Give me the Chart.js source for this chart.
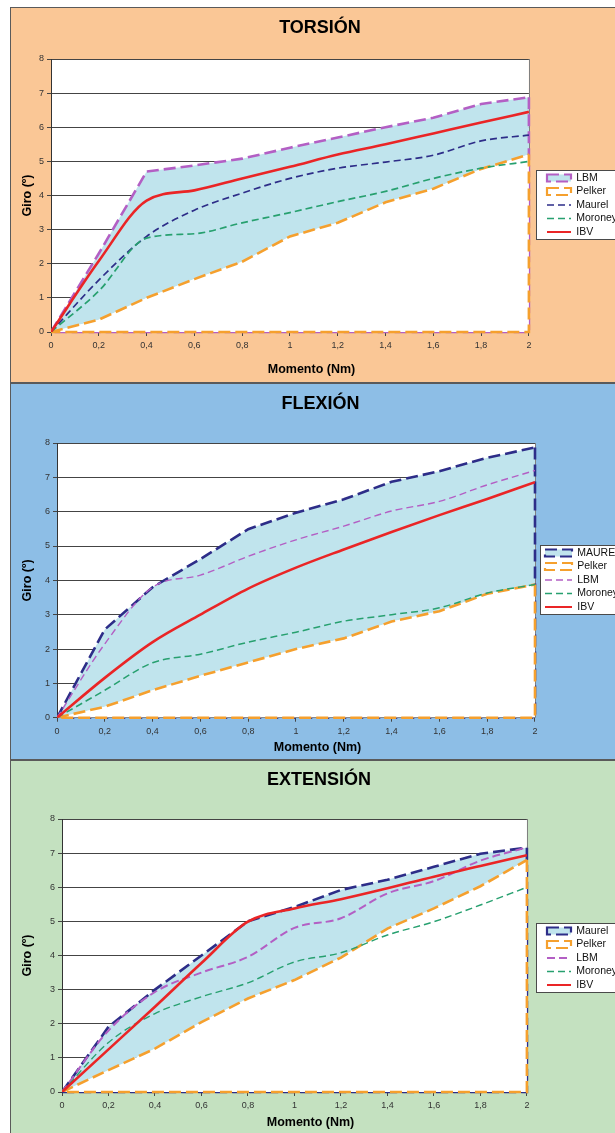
<!DOCTYPE html>
<html>
<head>
<meta charset="utf-8">
<title>Giro frente a momento</title>
<script src="https://cdn.jsdelivr.net/npm/chart.js@4.4.1/dist/chart.umd.min.js"></script>
<style>
  html, body { margin: 0; padding: 0; background: #fff; width: 615px; height: 1133px; overflow: hidden; }
  .panel { position: absolute; left: 10px; width: 620px; border: 1px solid #5a5a5a; }
  .panel canvas { display: block; }
</style>
</head>
<body>
<div class="panel" style="top:7px; height:374px; background:#fac796;"><canvas id="torsion" width="620" height="374"></canvas></div>
<div class="panel" style="top:383px; height:375px; background:#8dbee6;"><canvas id="flexion" width="620" height="375"></canvas></div>
<div class="panel" style="top:760px; height:380px; background:#c4e1c0;"><canvas id="extension" width="620" height="372"></canvas></div>

<script>
// momento aplicado (Nm), comun a las tres graficas
const momento = [0, 0.2, 0.4, 0.6, 0.8, 1, 1.2, 1.4, 1.6, 1.8, 2];

// giro (grados) - torsion
const torsionLBM     = [0, 2.3, 4.7, 4.88, 5.08, 5.4, 5.7, 6.0, 6.28, 6.68, 6.88];
const torsionPelker  = [0, 0.36, 1.0, 1.55, 2.06, 2.8, 3.2, 3.8, 4.2, 4.78, 5.2];
const torsionMaurel  = [0, 1.52, 2.8, 3.57, 4.07, 4.5, 4.8, 4.98, 5.18, 5.6, 5.77];
const torsionMoroney = [0, 1.2, 2.75, 2.88, 3.2, 3.5, 3.82, 4.12, 4.5, 4.8, 5.0];
const torsionIBV     = [0, 2.08, 3.85, 4.15, 4.5, 4.84, 5.2, 5.5, 5.82, 6.14, 6.45];

// giro (grados) - flexion
const flexionMaurel  = [0, 2.57, 3.8, 4.62, 5.49, 5.97, 6.36, 6.87, 7.18, 7.57, 7.87];
const flexionPelker  = [0, 0.32, 0.8, 1.22, 1.61, 2.0, 2.31, 2.8, 3.1, 3.61, 3.88];
const flexionLBM     = [0, 2.15, 3.8, 4.15, 4.7, 5.18, 5.58, 6.02, 6.3, 6.78, 7.2];
const flexionMoroney = [0, 0.8, 1.6, 1.85, 2.2, 2.49, 2.81, 3.0, 3.2, 3.63, 3.88];
const flexionIBV     = [0, 1.16, 2.2, 3.0, 3.76, 4.37, 4.9, 5.41, 5.9, 6.37, 6.86];

// giro (grados) - extension
const extensionMaurel  = [0, 1.91, 3.0, 4.0, 5.0, 5.42, 5.92, 6.22, 6.6, 6.98, 7.16];
const extensionPelker  = [0, 0.64, 1.27, 2.05, 2.74, 3.28, 3.94, 4.79, 5.38, 6.03, 6.8];
const extensionLBM     = [0, 1.8, 2.93, 3.5, 3.96, 4.81, 5.09, 5.82, 6.18, 6.78, 7.17];
const extensionMoroney = [0, 1.45, 2.3, 2.79, 3.2, 3.81, 4.08, 4.6, 4.99, 5.48, 6.0];
const extensionIBV     = [0, 1.25, 2.5, 3.78, 4.99, 5.38, 5.65, 5.97, 6.31, 6.62, 6.94];

const fuente = "'Liberation Sans', Arial, sans-serif";
Chart.defaults.font.family = fuente;
Chart.defaults.color = '#222';

const morado = '#b35fc4';
const naranja = '#f5a02e';
const azul = '#2d2d88';
const verde = '#27a06f';
const rojo = '#ea2526';
const celeste = '#c0e4ed';

function puntos(valores) {
  return momento.map((x, i) => ({ x: x, y: valores[i] }));
}

function area(label, valores, color, relleno, destino) {
  return {
    label: label, data: puntos(valores),
    borderColor: color, borderWidth: 2.6, borderDash: [12, 5],
    backgroundColor: relleno, fill: destino, tension: 0,
    pointRadius: 0, pointHoverRadius: 0, pointStyle: 'rect',
    cierre: true, order: destino === 'origin' ? 4 : 5
  };
}

function linea(label, valores, color, ancho, trazo, orden) {
  return {
    label: label, data: puntos(valores),
    borderColor: color, borderWidth: ancho, borderDash: trazo,
    backgroundColor: color, fill: false, cubicInterpolationMode: 'monotone',
    pointRadius: 0, pointHoverRadius: 0, pointStyle: 'line', order: orden
  };
}

// fondo blanco del area, recuadro de leyenda, borde derecho y cierre de las areas
const marco = {
  id: 'marco',
  afterLayout(chart, args, o) {
    const lg = chart.legend;
    lg.left = o.leyendaX; lg.right = o.leyendaX + lg.width;
    lg.top = o.leyendaY; lg.bottom = o.leyendaY + lg.height;
    const t = chart.titleBlock;
    t.left += o.tituloDx; t.right += o.tituloDx;
  },
  beforeDraw(chart, args, o) {
    const { ctx, chartArea: a } = chart;
    ctx.save();
    ctx.fillStyle = '#fff';
    ctx.fillRect(a.left, a.top, a.right - a.left, a.bottom - a.top);
    const cajas = chart.legend.legendHitBoxes;
    if (cajas && cajas.length) {
      const ult = cajas[cajas.length - 1];
      const x0 = Math.round(cajas[0].left - o.margenCaja) + 0.5;
      const y0 = Math.round(cajas[0].top - 3) + 0.5;
      const y1 = Math.round(ult.top + ult.height + 2) + 0.5;
      ctx.fillRect(x0, y0, chart.width, y1 - y0);
      ctx.strokeStyle = '#4a4a4a';
      ctx.lineWidth = 1;
      ctx.strokeRect(x0, y0, chart.width, y1 - y0);
    }
    ctx.restore();
  },
  beforeDatasetsDraw(chart) {
    const { ctx, chartArea: a } = chart;
    const xr = Math.round(a.right) + 0.5;
    ctx.save();
    ctx.strokeStyle = '#808080';
    ctx.lineWidth = 1;
    ctx.beginPath();
    ctx.moveTo(xr, a.top);
    ctx.lineTo(xr, a.bottom);
    ctx.stroke();
    ctx.restore();
  },
  afterDatasetDraw(chart, args) {
    const ds = chart.data.datasets[args.index];
    if (!ds.cierre) return;
    const pts = args.meta.data;
    const ini = pts[0], fin = pts[pts.length - 1];
    const y0 = chart.scales.y.getPixelForValue(0);
    const ctx = chart.ctx;
    ctx.save();
    ctx.strokeStyle = ds.borderColor;
    ctx.lineWidth = ds.borderWidth;
    ctx.setLineDash(ds.borderDash);
    ctx.beginPath();
    ctx.moveTo(fin.x, fin.y);
    ctx.lineTo(fin.x, y0);
    ctx.lineTo(ini.x, y0);
    ctx.stroke();
    ctx.restore();
  }
};

function grafico(id, titulo, series, aj) {
  return new Chart(document.getElementById(id), {
    type: 'line',
    data: { datasets: series },
    plugins: [marco],
    options: {
      responsive: false,
      animation: false,
      events: [],
      layout: { padding: { left: 0, right: aj.derecha, top: 0, bottom: 0 } },
      scales: {
        x: {
          type: 'linear', min: 0, max: 2,
          afterBuildTicks: s => { s.ticks = momento.map(v => ({ value: v })); },
          ticks: {
            autoSkip: false, maxRotation: 0, padding: 4, color: '#333', font: { size: 9 },
            callback: v => String(Math.round(v * 10) / 10).replace('.', ',')
          },
          grid: { drawOnChartArea: false, drawTicks: true, tickLength: 4, color: '#444' },
          border: { color: '#333', width: 1 }
        },
        y: {
          min: 0, max: 8,
          ticks: { stepSize: 1, padding: 3, color: '#333', font: { size: 9 } },
          grid: { color: '#444', lineWidth: 1, tickLength: 4 },
          border: { color: '#333', width: 1 },
          title: {
            display: true, text: 'Giro (º)', color: '#000',
            font: { size: 12.5, weight: 'bold' },
            padding: { top: 9.5, bottom: aj.giroPad }
          }
        }
      },
      plugins: {
        title: {
          display: true, text: titulo, color: '#000',
          font: { size: 18, weight: 'bold' },
          padding: { top: aj.tituloArriba, bottom: aj.tituloAbajo }
        },
        subtitle: {
          display: true, position: 'bottom', text: 'Momento (Nm)', color: '#000',
          font: { size: 12.5, weight: 'bold' },
          padding: { top: aj.ejeArriba, bottom: aj.ejeAbajo }
        },
        legend: {
          position: 'right', align: 'start', fullSize: false,
          labels: {
            usePointStyle: true, pointStyleWidth: aj.simbolo, boxHeight: 7,
            padding: 3, color: '#111', font: { size: 10.5 },
            generateLabels: chart => chart.data.datasets.map((ds, i) => ({
              text: ds.label, datasetIndex: i, hidden: false,
              fillStyle: ds.backgroundColor, strokeStyle: ds.borderColor,
              lineWidth: Math.min(ds.borderWidth, 2.2), lineDash: ds.borderDash,
              pointStyle: ds.pointStyle, fontColor: '#111'
            }))
          }
        },
        tooltip: { enabled: false },
        marco: { leyendaX: aj.leyendaX, leyendaY: aj.leyendaY, tituloDx: aj.tituloDx, margenCaja: aj.margenCaja }
      }
    }
  });
}

grafico('torsion', 'TORSIÓN', [
  area('LBM', torsionLBM, morado, celeste, 1),
  area('Pelker', torsionPelker, naranja, '#ffffff', 'origin'),
  linea('Maurel', torsionMaurel, azul, 1.7, [7, 4], 3),
  linea('Moroney', torsionMoroney, verde, 1.7, [7, 4], 2),
  linea('IBV', torsionIBV, rojo, 2.6, [], 1)
], { derecha: 19, giroPad: 0.5, tituloArriba: 9.2, tituloAbajo: 20.2, ejeArriba: 7.7, ejeAbajo: 4.5,
     simbolo: 24, leyendaX: 533, leyendaY: 161.75, tituloDx: 8.5, margenCaja: 11 });

grafico('flexion', 'FLEXIÓN', [
  area('MAUREL', flexionMaurel, azul, celeste, 1),
  area('Pelker', flexionPelker, naranja, '#ffffff', 'origin'),
  linea('LBM', flexionLBM, morado, 1.4, [7, 4], 3),
  linea('Moroney', flexionMoroney, verde, 1.5, [7, 4], 2),
  linea('IBV', flexionIBV, rojo, 2.6, [], 1)
], { derecha: 7, giroPad: 6.5, tituloArriba: 9.2, tituloAbajo: 28.2, ejeArriba: 0, ejeAbajo: 3.5,
     simbolo: 27, leyendaX: 531, leyendaY: 160.75, tituloDx: 3, margenCaja: 5 });

grafico('extension', 'EXTENSIÓN', [
  area('Maurel', extensionMaurel, azul, celeste, 1),
  area('Pelker', extensionPelker, naranja, '#ffffff', 'origin'),
  linea('LBM', extensionLBM, morado, 2, [8, 4], 3),
  linea('Moroney', extensionMoroney, verde, 1.4, [7, 4], 2),
  linea('IBV', extensionIBV, rojo, 2.6, [], 1)
], { derecha: 21, giroPad: 11.5, tituloArriba: 8.2, tituloAbajo: 28.2, ejeArriba: 0.7, ejeAbajo: 2.5,
     simbolo: 24, leyendaX: 533, leyendaY: 161.75, tituloDx: 8.5, margenCaja: 11 });
</script>
</body>
</html>
